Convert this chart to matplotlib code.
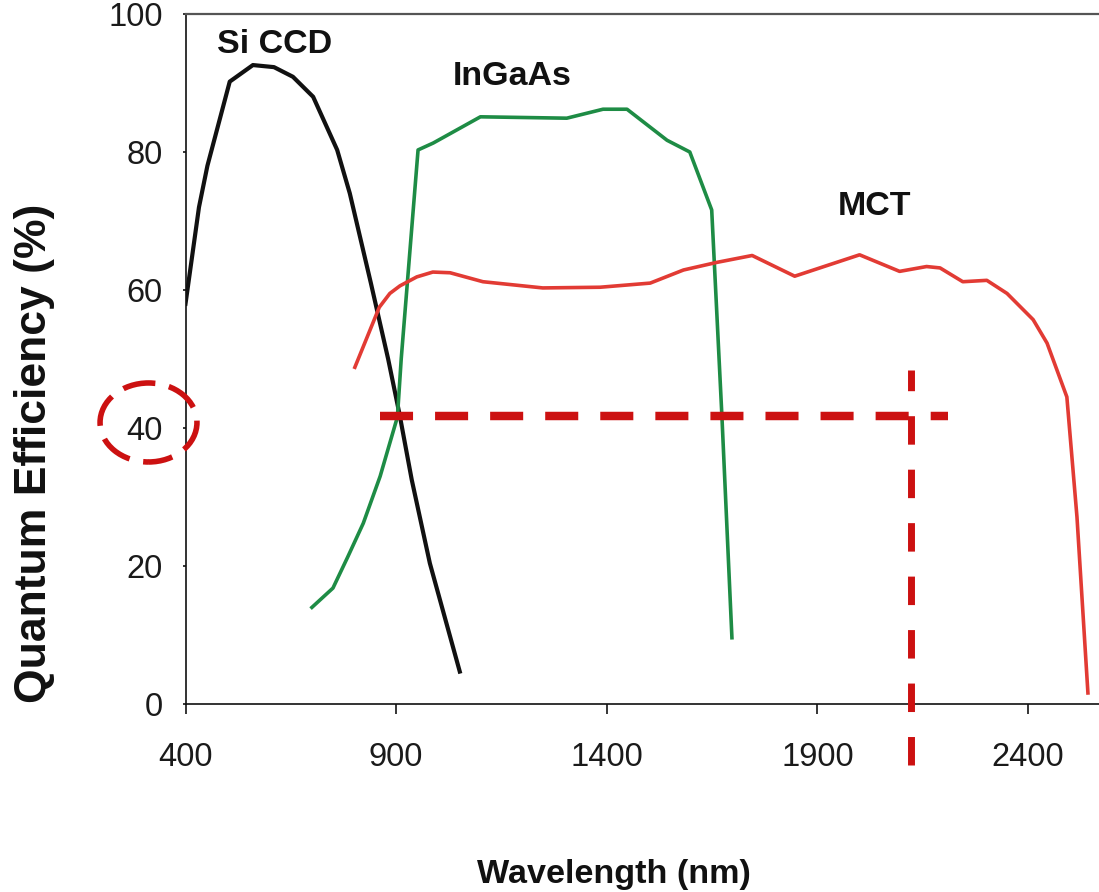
import matplotlib
matplotlib.use("Agg")
import matplotlib.pyplot as plt
from matplotlib.patches import Ellipse

plt.rcParams['font.family'] = ['Liberation Sans', 'DejaVu Sans']

# ---- data ----
si_x = [400, 432, 452, 505, 560, 610, 655, 703, 760, 790, 840, 881, 908, 937, 980, 1051]
si_y = [58, 72, 78, 90.2, 92.6, 92.3, 90.9, 88, 80.3, 74, 61, 50, 42, 32.5, 20.4, 4.7]

ingaas_x = [700, 750, 785, 822, 862, 903, 912, 952, 988, 1100, 1305, 1391, 1448, 1543, 1597, 1649, 1673, 1697]
ingaas_y = [14, 16.8, 21.3, 26.2, 33, 41.6, 50, 80.3, 81.3, 85.1, 84.9, 86.2, 86.2, 81.7, 80, 71.6, 42, 9.6]

mct_x = [802, 830, 860, 885, 909, 949, 987, 1028, 1106, 1248, 1384, 1503, 1582, 1661, 1745, 1846,
         2000, 2095, 2159, 2191, 2245, 2302, 2350, 2412, 2445, 2492, 2516, 2542]
mct_y = [48.8, 53, 57.5, 59.5, 60.6, 61.9, 62.6, 62.5, 61.2, 60.3, 60.4, 61, 62.9, 64, 65, 62,
         65.1, 62.7, 63.4, 63.2, 61.2, 61.4, 59.5, 55.7, 52.3, 44.5, 27.1, 1.6]

xticks = [400, 900, 1400, 1900, 2400]
yticks = [0, 20, 40, 60, 80, 100]

labels = ["Si CCD", "InGaAs", "MCT"]
label_x = [612, 1175, 2035]
label_y = [94.4, 89.7, 70.9]

h_line_x = [862, 2210]
h_line_y = [41.7, 41.7]
v_line_x = [2122, 2122]
v_line_y = [-8.8, 48.4]

# ---- figure ----
W, H = 1099, 892
fig = plt.figure(figsize=(W / 100, H / 100), dpi=100)
left_px, right_px, top_px, bot_px = 185.5, 1099, 14, 704
ax = fig.add_axes([left_px / W, 1 - bot_px / H, (right_px - left_px) / W, (bot_px - top_px) / H])

ax.set_xlim(400, 400 + (right_px - left_px) / 0.4213)
ax.set_ylim(0, 100)

ax.plot(si_x, si_y, color='#111111', lw=3.0, solid_joinstyle='round', zorder=3)
ax.plot(ingaas_x, ingaas_y, color='#1E8C45', lw=2.6, solid_joinstyle='round', zorder=3)
ax.plot(mct_x, mct_y, color='#E23B34', lw=2.6, solid_joinstyle='round', zorder=3)

dash_col = '#CC1111'
ax.plot(h_line_x, h_line_y, color=dash_col, lw=6.1, dashes=(3.9, 2.6), zorder=4)
ax.plot(v_line_x, v_line_y, color=dash_col, lw=5.0, dashes=(4.1, 3.6), zorder=4, clip_on=False)

for t, x, y in zip(labels, label_x, label_y):
    ax.text(x, y, t, ha='center', va='baseline', fontsize=24.5, fontweight='bold', color='#111111')

# dashed ellipse around the 40 label
ell = Ellipse((312.2, 40.8), width=230, height=11.45, fill=False, edgecolor=dash_col,
              lw=4, linestyle=(1.5, (5.9, 2.5)), clip_on=False, zorder=5)
ax.add_patch(ell)

ax.set_xticks(xticks)
ax.set_yticks(yticks)
ax.tick_params(axis='x', direction='out', length=7.2, width=1.1, pad=20, labelsize=23.5, labelcolor='#1a1a1a')
ax.tick_params(axis='y', direction='out', length=2.2, width=1.1, pad=14, labelsize=23.5, labelcolor='#1a1a1a')

for s in ['left', 'bottom']:
    ax.spines[s].set_linewidth(1.2)
    ax.spines[s].set_color('#111111')
ax.spines['top'].set_linewidth(1.6)
ax.spines['top'].set_color('#555555')
ax.spines['right'].set_visible(False)

fig.text(614 / W, 1 - 883 / H, "Wavelength (nm)", ha='center', va='baseline',
         fontsize=24.6, fontweight='bold', color='#111111')
fig.text(35 / W, 1 - 453 / H, "Quantum Efficiency (%)", ha='center', va='center', rotation=90,
         fontsize=32, fontweight='bold', color='#111111')

fig.savefig("out.png", dpi=100, facecolor='white')
